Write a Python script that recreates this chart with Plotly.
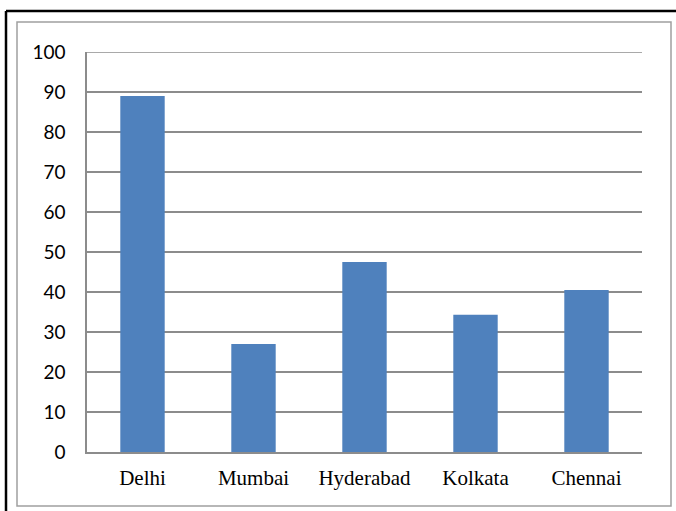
import plotly.graph_objects as go

cities = ["Delhi", "Mumbai", "Hyderabad", "Kolkata", "Chennai"]
values = [89, 27, 47.5, 34.3, 40.5]
y_ticks = [0, 10, 20, 30, 40, 50, 60, 70, 80, 90, 100]

W, H = 676, 511
L, R, T, B = 87, 642, 52, 452

def px(x):
    return (x - L) / (R - L)

def py(y):
    return (B - y) / (B - T)

fig = go.Figure(go.Bar(x=cities, y=values, marker=dict(color="#4F81BD", line=dict(width=0))))

grid = "#8c8c8c"
fig.update_layout(
    width=W, height=H,
    margin=dict(l=L, r=W - R, t=T, b=H - B, pad=0),
    paper_bgcolor="white", plot_bgcolor="white",
    bargap=0.6,
    showlegend=False,
    xaxis=dict(showgrid=False, ticks="", showline=True, linecolor=grid, linewidth=1.5,
               tickfont=dict(family="Liberation Serif", size=21, color="#000"),
               ticklabelstandoff=6),
    yaxis=dict(range=[0, 100], tickvals=y_ticks, showgrid=True, gridcolor=grid, gridwidth=1.5,
               showline=True, linecolor=grid, linewidth=1.5, zeroline=False, ticks="",
               tickfont=dict(family="Lato", size=19, color="#000"),
               ticklabelstandoff=16),
    shapes=[
        dict(type="line", xref="paper", yref="y", x0=0, x1=1, y0=y_ticks[-1], y1=y_ticks[-1],
             line=dict(color=grid, width=1.5)),
        dict(type="rect", xref="paper", yref="paper", x0=px(17), x1=px(671), y0=py(506), y1=py(22),
             line=dict(color="#a0a0a0", width=1.5), layer="below"),
        dict(type="line", xref="paper", yref="paper", x0=px(6), x1=px(680), y0=py(11), y1=py(11),
             line=dict(color="#000", width=2.5)),
        dict(type="line", xref="paper", yref="paper", x0=px(6), x1=px(6), y0=py(11), y1=py(520),
             line=dict(color="#000", width=2.5)),
    ],
)

fig.write_html("out.html")
